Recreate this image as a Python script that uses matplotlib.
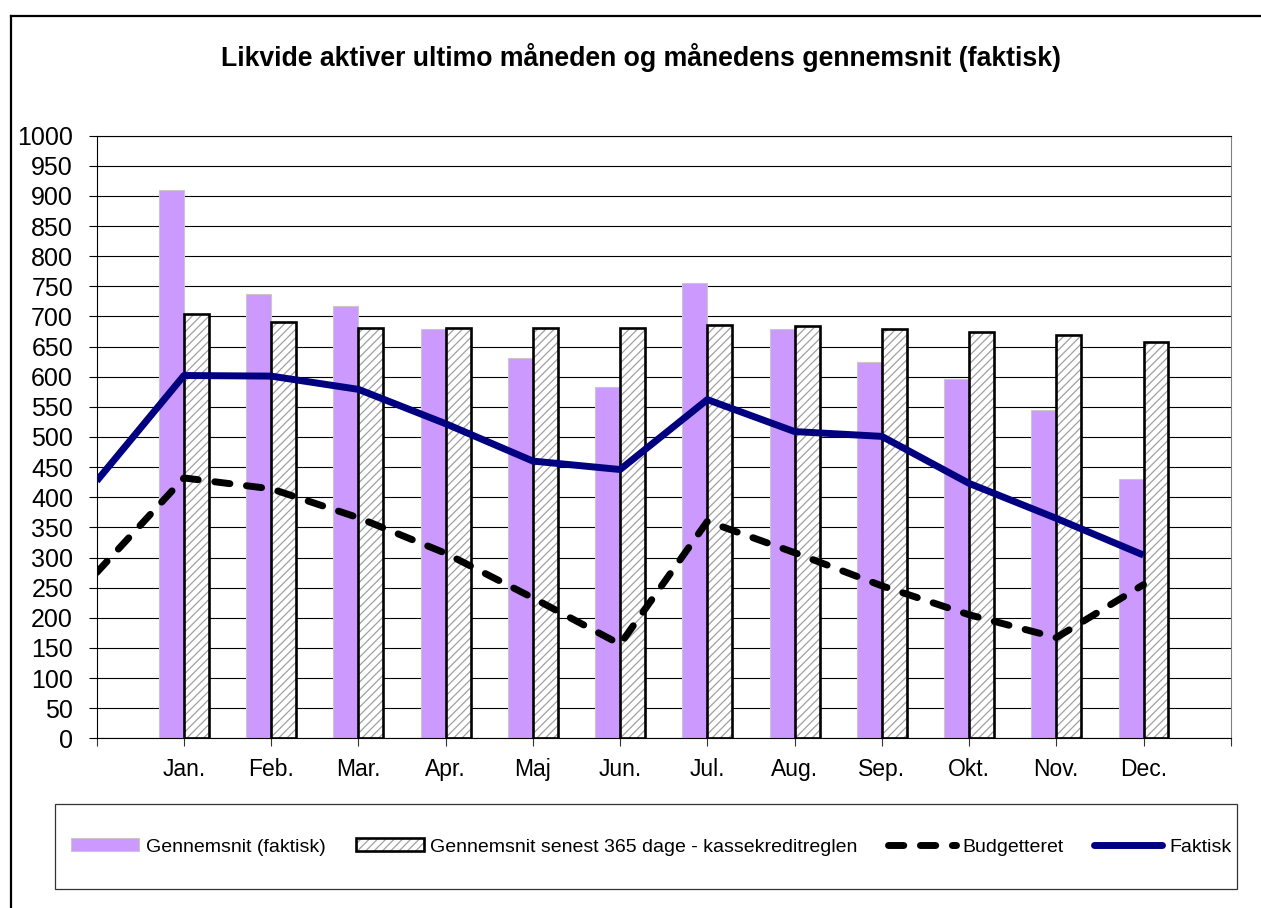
import matplotlib
matplotlib.use('Agg')
import matplotlib.pyplot as plt
from matplotlib.lines import Line2D
from matplotlib.patches import Patch, Rectangle

plt.rcParams['font.family'] = ['Liberation Sans', 'DejaVu Sans']
plt.rcParams['hatch.linewidth'] = 0.9

TITLE = 'Likvide aktiver ultimo måneden og månedens gennemsnit (faktisk)'
MONTHS = ['Jan.', 'Feb.', 'Mar.', 'Apr.', 'Maj', 'Jun.', 'Jul.', 'Aug.', 'Sep.', 'Okt.', 'Nov.', 'Dec.']

# bars, one per month
avg_actual = [910, 737, 717, 679, 631, 583, 756, 679, 625, 597, 544, 431]
avg_365 = [704, 691, 680, 680, 680, 680, 685, 684, 679, 675, 670, 658]

# lines, first value sits on the empty slot before Jan.
budget = [275, 432, 414, 366, 307, 233, 156, 360, 308, 253, 205, 167, 255]
actual = [427, 602, 601, 579, 522, 460, 446, 562, 509, 501, 423, 365, 304]

LABELS = ['Gennemsnit (faktisk)', 'Gennemsnit senest 365 dage - kassekreditreglen',
          'Budgetteret', 'Faktisk']

PURPLE = '#CC99FF'
NAVY = '#000080'
W = 0.286

fig = plt.figure(figsize=(12.61, 9.08), dpi=100)
ax = fig.add_axes([0.0767, 0.1869, 0.8993, 0.6637])

bar_x = list(range(1, len(MONTHS) + 1))
line_x = list(range(0, len(MONTHS) + 1))

ax.bar(bar_x, avg_actual, width=-W, align='edge', color=PURPLE,
       edgecolor='#C8C8C8', linewidth=0.8, zorder=2)
ax.bar(bar_x, avg_365, width=W, align='edge', color='white',
       edgecolor='#A0A0A0', hatch='////', linewidth=0, zorder=2)
ax.bar(bar_x, avg_365, width=W, align='edge', fill=False,
       edgecolor='black', linewidth=1.9, zorder=3)

ax.plot(line_x, budget, color='black', lw=5, dashes=(2.2, 2.4),
        dash_capstyle='round', zorder=4)
ax.plot(line_x, actual, color=NAVY, lw=5, solid_joinstyle='round',
        solid_capstyle='butt', zorder=5)

ax.set_xlim(0, len(MONTHS) + 1)
ax.set_ylim(0, 1000)
ax.set_yticks(range(0, 1001, 50))
ax.set_xticks(line_x + [len(MONTHS) + 1])
ax.set_xticklabels([''] + MONTHS + [''])
ax.grid(axis='y', color='black', lw=0.8, zorder=0)
ax.set_axisbelow(True)

ax.tick_params(axis='y', labelsize=18, length=6, width=0.8, pad=11)
ax.tick_params(axis='x', labelsize=16.5, length=6, width=0.8, pad=8, colors='#333333')
ax.tick_params(axis='x', labelcolor='black')
for s in ['left', 'bottom', 'top']:
    ax.spines[s].set_color('black')
    ax.spines[s].set_linewidth(0.8)
ax.spines['right'].set_color('#808080')
ax.spines['right'].set_linewidth(0.8)

fig.text(0.508, 1 - 57 / 908, TITLE, ha='center', va='center',
         fontsize=19.2, fontweight='bold')

# outer frame (only top and left edge visible)
fig.add_artist(Line2D([10.5 / 1261, 10.5 / 1261], [0, 1 - 15.5 / 908],
                      transform=fig.transFigure, color='black', lw=1.6))
fig.add_artist(Line2D([10.5 / 1261, 1], [1 - 15.5 / 908, 1 - 15.5 / 908],
                      transform=fig.transFigure, color='black', lw=1.6))

# legend box
fig.add_artist(Rectangle((54.5 / 1261, 1 - 889.3 / 908), (1236.7 - 54.5) / 1261,
                         (889.3 - 804.3) / 908, transform=fig.transFigure,
                         fill=False, edgecolor='#333333', lw=0.9))

handles = [
    Patch(facecolor=PURPLE, edgecolor='#C8C8C8', lw=0.8),
    (Patch(facecolor='white', edgecolor='#A0A0A0', hatch='////', lw=0),
     Patch(facecolor='none', edgecolor='black', lw=1.9)),
    Line2D([], [], color='black', lw=5, dashes=(2.2, 2.4), dash_capstyle='round'),
    Line2D([], [], color=NAVY, lw=5, solid_capstyle='round'),
]
fig.legend(handles, LABELS, loc='center', bbox_to_anchor=(651 / 1261, 1 - 847 / 908),
           ncol=4, frameon=False, fontsize=14, handlelength=3.5, handleheight=0.6,
           handletextpad=0.35, columnspacing=1.55, borderaxespad=0, borderpad=0)

fig.savefig('out.png', dpi=100)
